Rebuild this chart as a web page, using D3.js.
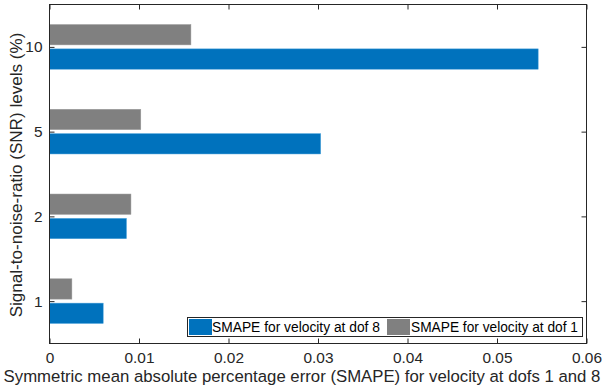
<!DOCTYPE html>
<html><head><meta charset="utf-8">
<script src="https://cdn.jsdelivr.net/npm/d3@7"></script>
<style>body{margin:0;background:#fff}svg{font-family:"Liberation Sans",Arial,sans-serif}</style>
</head><body><svg id="c" width="603" height="390"></svg>
<script>
const categories = ["1","2","5","10"];
const dof8 = [0.0060, 0.0086, 0.0303, 0.0546];
const dof1 = [0.0025, 0.0091, 0.0102, 0.0158];
const xTicks = [0,0.01,0.02,0.03,0.04,0.05,0.06];
const xTickLabels = ["0","0.01","0.02","0.03","0.04","0.05","0.06"];
const seriesNames = ["SMAPE for velocity at dof 8","SMAPE for velocity at dof 1"];
const colors = ["#0072BD","#808080"];

const svg = d3.select("#c");
const L=49.5, R=586.5, T=4.5, B=343.5;
const x = d3.scaleLinear().domain([0,0.06]).range([L,R]);
const y = d3.scaleLinear().domain([0.5,4.5]).range([B,T]);
const bh = 0.24;

function fitSize(sel, w){
  const n = sel.node(); const fs = parseFloat(sel.attr("font-size"));
  const cur = n.getComputedTextLength();
  return fs*w/cur;
}
function fit(sel, w){ sel.attr("font-size", fitSize(sel,w)); }

const g = svg.append("g");
categories.forEach((c,i)=>{
  const yc = y(i+1);
  const step = y(0)-y(1);
  const h = bh*step;
  g.append("rect").attr("x",x(0)).attr("y",yc+2).attr("width",x(dof8[i])-x(0)).attr("height",h)
    .attr("fill",colors[0]).attr("stroke","#4DA3DB").attr("stroke-width",0.5);
  g.append("rect").attr("x",x(0)).attr("y",yc-2-h).attr("width",x(dof1[i])-x(0)).attr("height",h)
    .attr("fill",colors[1]).attr("stroke","#9a9a9a").attr("stroke-width",0.5);
});

svg.append("rect").attr("x",L).attr("y",T).attr("width",R-L).attr("height",B-T)
  .attr("fill","none").attr("stroke","#262626").attr("stroke-width",1);

const xa = svg.append("g").attr("transform",`translate(0,${B})`)
  .call(d3.axisBottom(x).tickValues(xTicks).tickFormat((d,i)=>xTickLabels[i]).tickSizeInner(-5).tickSizeOuter(0).tickPadding(9));
xa.attr("font-size",null).attr("font-family",null);
xa.select(".domain").remove();
xa.selectAll("line").attr("stroke","#262626");
xa.selectAll("text").attr("font-size",14).attr("fill","#262626");
const xfs = fitSize(xa.selectAll("text").filter((d,i)=>i===1), 30);
xa.selectAll("text").attr("font-size",xfs);
const xt = svg.append("g").attr("transform",`translate(0,${T})`)
  .call(d3.axisTop(x).tickValues(xTicks).tickFormat("").tickSizeInner(-5).tickSizeOuter(0));
xt.select(".domain").remove(); xt.selectAll("line").attr("stroke","#262626");

const ya = svg.append("g").attr("transform",`translate(${L},0)`)
  .call(d3.axisLeft(y).tickValues([1,2,3,4]).tickFormat(d=>categories[d-1]).tickSizeInner(-5).tickSizeOuter(0).tickPadding(7));
ya.attr("font-size",null).attr("font-family",null);
ya.select(".domain").remove();
ya.selectAll("line").attr("stroke","#262626");
ya.selectAll("text").attr("font-size",xfs).attr("fill","#262626");
const yr = svg.append("g").attr("transform",`translate(${R},0)`)
  .call(d3.axisRight(y).tickValues([1,2,3,4]).tickFormat("").tickSizeInner(-5).tickSizeOuter(0));
yr.select(".domain").remove(); yr.selectAll("line").attr("stroke","#262626");

const xl = svg.append("text").attr("x",302).attr("y",382).attr("text-anchor","middle")
  .attr("font-size",15).attr("fill","#262626").text("Symmetric mean absolute percentage error (SMAPE) for velocity at dofs 1 and 8");
fit(xl, 597);
const yl = svg.append("text").attr("transform",`translate(22,175) rotate(-90)`).attr("text-anchor","middle")
  .attr("font-size",15).attr("fill","#262626").text("Signal-to-noise-ratio (SNR) levels (%)");
fit(yl, 285);

const lg = svg.append("g");
lg.append("rect").attr("x",187.5).attr("y",317.5).attr("width",395).attr("height",19)
  .attr("fill","#fff").attr("stroke","#262626").attr("stroke-width",1);
const items = [{x:189,tx:212,w:168},{x:387,tx:411,w:167}];
items.forEach((it,i)=>{
  lg.append("rect").attr("x",it.x).attr("y",319).attr("width",23).attr("height",16).attr("fill",colors[i]);
  const t = lg.append("text").attr("x",it.tx).attr("y",332).attr("font-size",13).attr("fill","#000").text(seriesNames[i]);
  fit(t, it.w);
});
</script></body></html>
